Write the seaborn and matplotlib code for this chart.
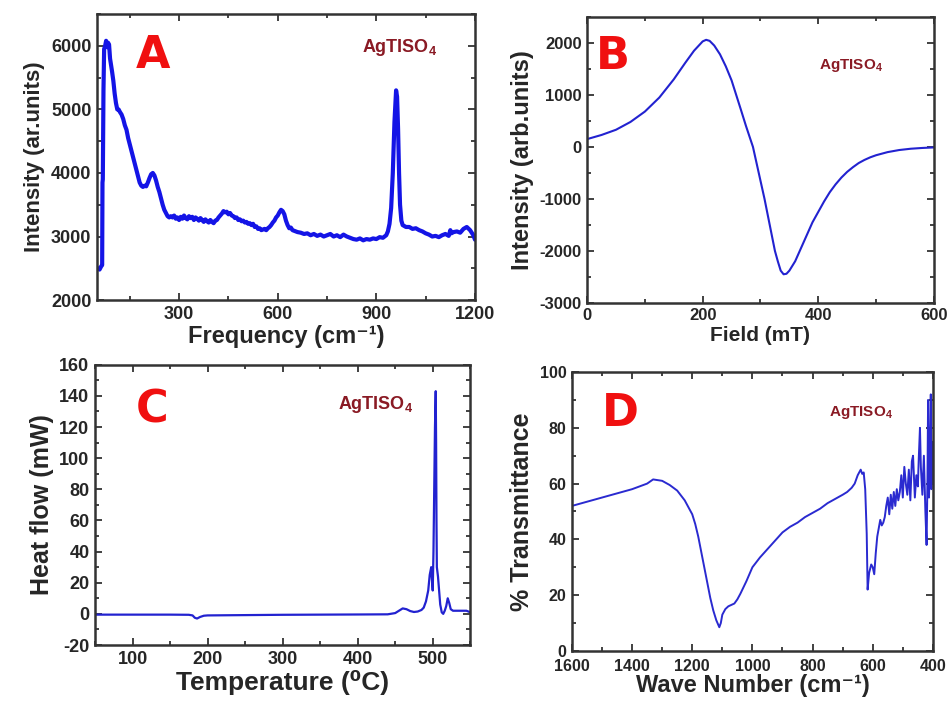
import numpy as np
import pandas as pd
import matplotlib
matplotlib.use("Agg")
import matplotlib.pyplot as plt
from matplotlib.ticker import MultipleLocator
import seaborn as sns

# ---------------- data ----------------
# Panel A: Raman spectrum
freq_A = [52, 58, 63, 66, 67, 68, 70, 72, 75, 78, 81, 84, 87, 90, 93, 96, 100, 104, 108, 112,
          116, 120, 125, 130, 135, 140, 145, 150, 155, 160, 165, 170, 175, 180, 185, 190, 195,
          200, 205, 210, 215, 220, 225, 230, 235, 240, 245, 250, 255, 260, 265, 270, 275, 280,
          285, 290, 295, 300, 305, 310, 315, 320, 325, 330, 335, 340, 345, 350, 355, 360, 365,
          370, 375, 380, 385, 390, 395, 400, 405, 410, 415, 420, 425, 430, 435, 440, 445, 450,
          455, 460, 465, 470, 475, 480, 485, 490, 495, 500, 505, 510, 515, 520, 525, 530, 535,
          540, 545, 550, 555, 560, 565, 570, 575, 580, 585, 590, 595, 600, 605, 610, 615, 620,
          625, 630, 635, 640, 645, 650, 660, 670, 680, 690, 700, 710, 720, 730, 740, 750, 760,
          770, 780, 790, 800, 810, 820, 830, 840, 850, 860, 870, 880, 890, 900, 910, 920, 930,
          935, 940, 945, 950, 955, 960, 963, 966, 969, 972, 976, 980, 990, 1000, 1010, 1020,
          1030, 1040, 1050, 1060, 1070, 1080, 1090, 1100, 1110, 1120, 1125, 1128, 1135, 1145,
          1155, 1165, 1175, 1185, 1195, 1200]
int_A = [2500, 2480, 2530, 2550, 3850, 3900, 5300, 5950, 6000, 6080, 5980, 6050, 6020, 5800,
         5700, 5600, 5450, 5250, 5100, 5000, 5000, 4960, 4920, 4850, 4750, 4680, 4550, 4450,
         4350, 4250, 4150, 4050, 3950, 3850, 3800, 3780, 3800, 3790, 3850, 3920, 3980, 4000,
         3960, 3880, 3780, 3700, 3600, 3500, 3420, 3370, 3320, 3300, 3320, 3300, 3330, 3280,
         3300, 3260, 3310, 3280, 3330, 3290, 3270, 3320, 3290, 3310, 3260, 3300, 3280, 3250,
         3290, 3260, 3230, 3270, 3240, 3220, 3260, 3230, 3210, 3250, 3260, 3300, 3330, 3360,
         3400, 3380, 3390, 3350, 3370, 3330, 3320, 3290, 3300, 3260, 3270, 3240, 3250, 3220,
         3230, 3200, 3210, 3180, 3200, 3150, 3160, 3120, 3130, 3100, 3110, 3120, 3100, 3130,
         3150, 3180, 3220, 3250, 3300, 3330, 3380, 3420, 3400, 3350, 3250, 3180, 3130, 3140,
         3100, 3090, 3070, 3060, 3040, 3050, 3020, 3040, 3010, 3030, 3000, 3020, 3040, 3000,
         3020, 2990, 3030, 3000, 2980, 2960, 2950, 2970, 2940, 2960, 2950, 2970, 2960, 2990,
         2980, 3020, 3080, 3200, 3450, 4000, 4800, 5300, 5200, 4700, 4000, 3500, 3250, 3180,
         3150, 3150, 3120, 3130, 3100, 3080, 3050, 3030, 3000, 3010, 2990, 3020, 3040, 3010,
         3100, 3050, 3070, 3080, 3060, 3120, 3150, 3100, 3020, 2950]

# Panel B: EPR spectrum
field_B = [0, 25, 50, 75, 100, 125, 150, 170, 185, 195, 200, 206, 212, 220, 230, 240, 250,
           258, 266, 275, 287, 297, 307, 316, 325, 330, 335, 340, 345, 350, 360, 370, 380,
           390, 400, 410, 420, 430, 440, 450, 460, 470, 480, 490, 500, 520, 540, 560, 580, 600]
int_B = [150, 230, 330, 480, 680, 950, 1300, 1620, 1850, 1970, 2030, 2060, 2040, 1950, 1780,
         1550, 1280, 1000, 720, 400, 0, -500, -1000, -1500, -2000, -2200, -2380, -2450, -2440,
         -2380, -2200, -1950, -1700, -1450, -1250, -1050, -870, -720, -590, -480, -390, -310,
         -250, -200, -160, -100, -60, -35, -20, -10]

# Panel C: DSC
temp_C = [50, 100, 150, 175, 180, 183, 186, 190, 195, 200, 250, 300, 350, 400, 440, 450,
          455, 460, 465, 470, 475, 480, 485, 488, 491, 494, 496, 498, 499, 500, 501, 502,
          503, 504, 504.5, 505, 505.5, 506, 507, 508, 510, 512, 514, 516, 518, 520, 522, 524,
          527, 532, 540, 545, 550]
heat_C = [-0.5, -0.5, -0.5, -0.6, -1.0, -2.5, -3.0, -2.0, -1.2, -1.0, -0.8, -0.6, -0.5, -0.4,
          -0.3, 0.5, 2.0, 3.5, 3.0, 1.8, 1.2, 1.5, 2.5, 4.0, 8.0, 15.0, 25.0, 30.0, 22.0, 15.0,
          40.0, 80.0, 120.0, 143.0, 110.0, 60.0, 30.0, 28.0, 24.0, 18.0, 6.0, 1.0, 0.0, 2.0,
          5.0, 10.0, 7.0, 3.0, 2.0, 2.0, 2.0, 2.0, 1.0]

# Panel D: FTIR
wn_D = [1600, 1550, 1500, 1450, 1400, 1350, 1330, 1300, 1275, 1250, 1225, 1200, 1190, 1180,
        1170, 1160, 1150, 1140, 1130, 1120, 1110, 1105, 1100, 1090, 1080, 1070, 1060, 1050,
        1040, 1020, 1000, 975, 950, 925, 900, 875, 850, 825, 800, 775, 750, 725, 700, 685,
        670, 660, 650, 645, 640, 635, 630, 625, 620, 617, 612, 605, 600, 595, 590, 585, 580,
        575, 570, 565, 560, 555, 550, 545, 540, 535, 530, 525, 520, 515, 510, 505, 500, 495,
        490, 485, 480, 475, 470, 466, 460, 455, 450, 447, 443, 440, 435, 430, 425, 421, 418,
        416, 413, 410, 407, 405, 403, 400]
trans_D = [52, 53.5, 55, 56.5, 58, 60, 61.5, 61, 59.5, 57.5, 54, 49, 45.5, 41, 35.5, 30, 24.5,
           19, 14.5, 11, 8.5, 10, 13, 15, 16, 16.5, 17, 18.5, 20.5, 25, 30, 33.5, 36.5, 39.5,
           42.5, 44.5, 46, 48, 49.5, 51, 53, 54.5, 56, 57, 58.5, 60, 63, 64, 65, 63.5, 64, 58,
           42, 22, 28, 31, 30, 27.5, 35, 41, 44, 47, 45, 46, 48, 52, 55, 49, 56, 51, 57, 52, 58,
           54, 57, 63, 55, 66, 60, 56, 65, 54, 68, 70, 55, 63, 59, 69, 80, 66, 56, 70, 50, 38,
           62, 90, 55, 70, 92, 58, 75, 60]

# ---------------- style ----------------
sns.set_theme(style="ticks")
plt.rcParams["font.family"] = ["Liberation Sans", "DejaVu Sans"]
plt.rcParams["font.weight"] = "bold"
plt.rcParams["axes.labelweight"] = "bold"
plt.rcParams["axes.unicode_minus"] = False

fig = plt.figure(figsize=(9.5, 7.06), dpi=100)
axA = fig.add_axes([0.102, 0.575, 0.398, 0.405])
axB = fig.add_axes([0.618, 0.571, 0.365, 0.405])
axC = fig.add_axes([0.100, 0.0864, 0.395, 0.397])
axD = fig.add_axes([0.602, 0.078, 0.380, 0.395])

dfA = pd.DataFrame({"x": freq_A, "y": int_A})
dfB = pd.DataFrame({"x": field_B, "y": int_B})
dfC = pd.DataFrame({"x": temp_C, "y": heat_C})
dfD = pd.DataFrame({"x": wn_D, "y": trans_D})

sns.lineplot(data=dfA, x="x", y="y", ax=axA, color="#1414e6", lw=3.0, estimator=None, sort=False)
sns.lineplot(data=dfB, x="x", y="y", ax=axB, color="#2222d0", lw=1.5, estimator=None, sort=False)
sns.lineplot(data=dfC, x="x", y="y", ax=axC, color="#2222d0", lw=1.6, estimator=None, sort=False)
sns.lineplot(data=dfD, x="x", y="y", ax=axD, color="#2a2ad0", lw=1.4, estimator=None, sort=False)

def style(ax, xlim, ylim, xmaj, xmin, ymaj, ymin, xlabel, ylabel, xls, yls, tfs=13,
          xpad=4, xlabelpad=2):
    ax.set_xlim(*xlim)
    ax.set_ylim(*ylim)
    ax.xaxis.set_major_locator(MultipleLocator(xmaj))
    ax.xaxis.set_minor_locator(MultipleLocator(xmin))
    ax.yaxis.set_major_locator(MultipleLocator(ymaj))
    ax.yaxis.set_minor_locator(MultipleLocator(ymin))
    ax.tick_params(which="both", direction="in", top=True, right=True, width=1.3,
                   color="#333333", labelsize=tfs, pad=4)
    ax.tick_params(axis="x", which="both", pad=xpad)
    ax.tick_params(which="major", length=5)
    ax.tick_params(which="minor", length=3)
    for lab in ax.get_xticklabels() + ax.get_yticklabels():
        lab.set_fontweight("bold")
    for s in ax.spines.values():
        s.set_linewidth(1.8)
        s.set_color("#333333")
    ax.set_xlabel(xlabel, fontsize=xls, fontweight="bold", labelpad=xlabelpad)
    ax.set_ylabel(ylabel, fontsize=yls, fontweight="bold", labelpad=4)

style(axA, (50, 1200), (2000, 6500), 300, 150, 1000, 500,
      "Frequency (cm\u207b\u00b9)", "Intensity (ar.units)", 17, 16)
style(axB, (0, 600), (-3000, 2500), 200, 100, 1000, 500,
      "Field (mT)", "Intensity (arb.units)", 15, 17, tfs=12)
style(axC, (50, 550), (-20, 160), 100, 50, 20, 10,
      "Temperature (\u2070C)", "Heat flow (mW)", 19, 18)
style(axD, (1600, 400), (0, 100), 200, 100, 20, 10,
      "Wave Number (cm\u207b\u00b9)", "% Transmittance", 17, 18, tfs=11.5,
      xpad=6, xlabelpad=0)
axD.set_xticks([1600, 1400, 1200, 1000, 800, 600, 400])

red = "#f01010"
dark = "#8a1a24"
for ax, (px, py), letter in [(axA, (0.148, 0.855), "A"), (axB, (0.075, 0.86), "B"),
                             (axC, (0.152, 0.84), "C"), (axD, (0.133, 0.85), "D")]:
    ax.text(px, py, letter, transform=ax.transAxes, color=red, fontsize=32,
            fontweight="bold", family="DejaVu Sans", ha="center", va="center")

lab = "AgTISO$_{4}$"
plt.rcParams["mathtext.fontset"] = "custom"
plt.rcParams["mathtext.rm"] = "Liberation Sans:bold"
plt.rcParams["mathtext.it"] = "Liberation Sans:bold"
plt.rcParams["mathtext.bf"] = "Liberation Sans:bold"
axA.text(0.80, 0.885, lab, transform=axA.transAxes, color=dark, fontsize=13,
         fontweight="bold", ha="center", va="center")
axB.text(0.76, 0.83, lab, transform=axB.transAxes, color=dark, fontsize=11,
         fontweight="bold", ha="center", va="center")
axC.text(0.747, 0.857, lab, transform=axC.transAxes, color=dark, fontsize=13,
         fontweight="bold", ha="center", va="center")
axD.text(0.80, 0.855, lab, transform=axD.transAxes, color=dark, fontsize=11,
         fontweight="bold", ha="center", va="center")

fig.savefig("out.png", dpi=100)
